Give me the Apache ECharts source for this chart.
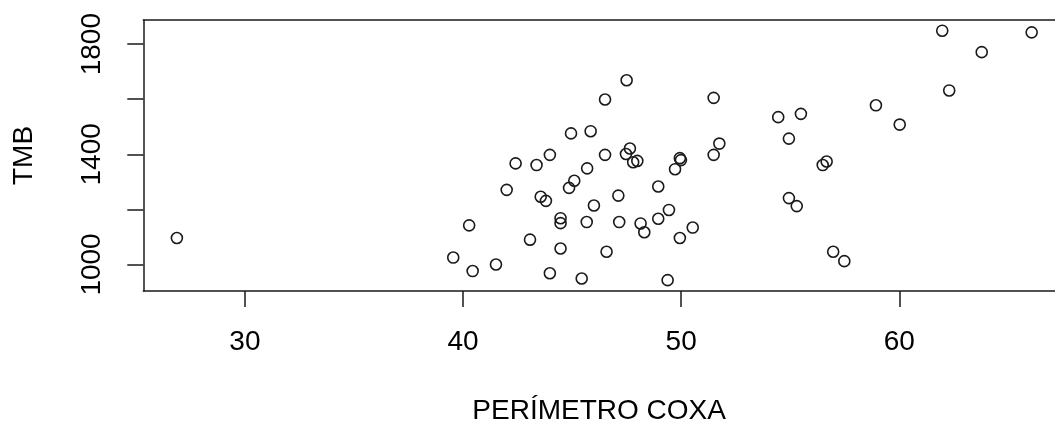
<!DOCTYPE html>
<html><head><meta charset="utf-8">
<script src="https://cdn.jsdelivr.net/npm/echarts@6/dist/echarts.min.js"></script>
<style>html,body{margin:0;padding:0;background:#fff}#c{width:1055px;height:430px}</style>
</head><body><div id="c"></div>
<script>
const perimetroCoxa = [26.88, 46.51, 44.95, 45.85, 43.98, 46.51, 42.41, 43.37, 45.69, 45.10,
  44.86, 42.00, 43.56, 43.80, 47.12, 46.00, 40.28, 44.47, 44.47, 45.67,
  47.16, 43.07, 44.47, 46.58, 39.55, 40.44, 41.51, 43.98, 45.44, 47.50,
  51.49, 47.65, 47.47, 47.80, 47.99, 49.94, 49.99, 49.72, 51.49, 51.75,
  48.95, 49.44, 48.95, 48.14, 48.31, 50.53, 49.94, 49.38, 54.45, 55.49,
  54.94, 54.94, 55.30, 61.97, 66.07, 63.78, 62.29, 58.93, 60.02, 56.49,
  56.67, 56.97, 57.48];
const tmb = [1096, 1599, 1476, 1484, 1398, 1398, 1367, 1361, 1349, 1304,
  1278, 1271, 1246, 1231, 1250, 1214, 1142, 1168, 1150, 1154,
  1154, 1090, 1058, 1046, 1025, 976, 1000, 968, 949, 1669,
  1605, 1421, 1401, 1371, 1376, 1386, 1379, 1346, 1398, 1439,
  1283, 1198, 1166, 1149, 1117, 1134, 1096, 943, 1535, 1547,
  1457, 1241, 1212, 1849, 1843, 1771, 1632, 1578, 1508, 1361,
  1374, 1046, 1012];
const xTicks = [30, 40, 50, 60];
const yTicks = [1000, 1200, 1400, 1600, 1800];
const yTickLabels = [1000, 1400, 1800];
const xRange = [25.34, 67.14];
const yRange = [903.6, 1887.8];
const xTitle = 'PERÍMETRO COXA';
const yTitle = 'TMB';

const chart = echarts.init(document.getElementById('c'), null, {renderer: 'canvas'});
const font = {fontFamily: '"Liberation Sans", Arial, sans-serif', fontSize: 28, color: '#000'};
const lineCol = '#1a1a1a';
const axisLineStyle = {show: true, lineStyle: {color: lineCol, width: 1.5}};
chart.setOption({
  animation: false,
  backgroundColor: '#fff',
  grid: {left: 143.3, top: 20, right: 0, bottom: 137.3, show: false, containLabel: false},
  xAxis: [{
    type: 'value', min: xRange[0], max: xRange[1], position: 'bottom',
    name: xTitle, nameLocation: 'middle', nameGap: 120,
    nameTextStyle: Object.assign({}, font, {align: 'center', verticalAlign: 'middle'}),
    axisLine: Object.assign({onZero: false}, axisLineStyle),
    splitLine: {show: false},
    axisTick: {show: true, inside: false, length: 16, customValues: xTicks,
               lineStyle: {color: lineCol, width: 1.5}},
    axisLabel: Object.assign({}, font, {customValues: xTicks, margin: 37,
               formatter: v => String(v)})
  }, {
    type: 'value', min: xRange[0], max: xRange[1], position: 'top',
    axisLine: Object.assign({onZero: false}, axisLineStyle),
    axisTick: {show: false}, axisLabel: {show: false}, splitLine: {show: false}
  }],
  yAxis: {
    type: 'value', min: yRange[0], max: yRange[1],
    name: yTitle, nameLocation: 'middle', nameGap: 119, nameRotate: 90,
    nameTextStyle: Object.assign({}, font, {align: 'center', verticalAlign: 'middle'}),
    axisLine: Object.assign({onZero: false}, axisLineStyle),
    splitLine: {show: false},
    axisTick: {show: true, inside: false, length: 16, customValues: yTicks,
               lineStyle: {color: lineCol, width: 1.5}},
    axisLabel: Object.assign({}, font, {customValues: yTickLabels, rotate: 90, margin: 51,
               align: 'center', verticalAlign: 'middle', formatter: v => String(v)})
  },
  series: [{
    type: 'scatter',
    xAxisIndex: 0,
    data: perimetroCoxa.map((x, i) => [x, tmb[i]]),
    symbol: 'circle', symbolSize: 11,
    itemStyle: {color: 'transparent', borderColor: lineCol, borderWidth: 1.6, opacity: 1},
    emphasis: {disabled: true},
    clip: false
  }]
});
</script>
</body></html>
